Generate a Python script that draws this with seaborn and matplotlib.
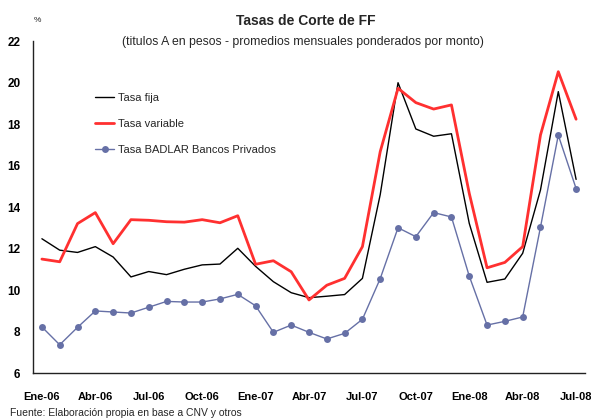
import matplotlib
matplotlib.use("Agg")
import matplotlib.pyplot as plt
import seaborn as sns
import pandas as pd
import numpy as np

months = ["Ene-06", "Feb-06", "Mar-06", "Abr-06", "May-06", "Jun-06", "Jul-06", "Ago-06",
          "Sep-06", "Oct-06", "Nov-06", "Dic-06", "Ene-07", "Feb-07", "Mar-07", "Abr-07",
          "May-07", "Jun-07", "Jul-07", "Ago-07", "Sep-07", "Oct-07", "Nov-07", "Dic-07",
          "Ene-08", "Feb-08", "Mar-08", "Abr-08", "May-08", "Jun-08", "Jul-08"]

tasa_fija = [12.47, 11.92, 11.81, 12.09, 11.59, 10.63, 10.89, 10.74, 11.00, 11.21, 11.25, 12.01,
             11.14, 10.40, 9.87, 9.63, 9.70, 9.78, 10.56, 14.60, 19.99, 17.76, 17.41, 17.53,
             13.21, 10.37, 10.53, 11.77, 14.82, 19.56, 15.33]

tasa_variable = [11.49, 11.36, 13.20, 13.73, 12.23, 13.39, 13.36, 13.29, 13.27, 13.39, 13.24, 13.58,
                 11.24, 11.41, 10.88, 9.52, 10.23, 10.56, 12.09, 16.67, 19.72, 19.03, 18.72, 18.92,
                 14.66, 11.07, 11.33, 12.09, 17.47, 20.52, 18.23]

badlar = [8.22, 7.36, 8.20, 8.99, 8.94, 8.89, 9.17, 9.45, 9.42, 9.42, 9.57, 9.79,
          9.24, 7.96, 8.31, 7.96, 7.64, 7.91, 8.59, 10.55, 13.00, 12.57, 13.73, 13.52,
          10.67, 8.31, 8.49, 8.70, 13.03, 17.46, 14.89]

series_names = ["Tasa fija", "Tasa variable", "Tasa BADLAR Bancos Privados"]
yticks = [6, 8, 10, 12, 14, 16, 18, 20, 22]

sns.set_style("white")
plt.rcParams['font.family'] = ['Liberation Sans', 'DejaVu Sans']

df = pd.DataFrame({"idx": np.arange(len(months)), "fija": tasa_fija,
                   "variable": tasa_variable, "badlar": badlar})

fig = plt.figure(figsize=(5.91, 4.19), dpi=100)
ax = fig.add_axes([33/591, 1 - 373/419, (585 - 33)/591, (373 - 41)/419])

sns.lineplot(data=df, x="idx", y="fija", ax=ax, color="black", linewidth=1.0,
             label=series_names[0])
sns.lineplot(data=df, x="idx", y="variable", ax=ax, color="#FF3030", linewidth=2.0,
             label=series_names[1])
sns.lineplot(data=df, x="idx", y="badlar", ax=ax, color="#6670A6", linewidth=1.0,
             marker="o", markersize=5, markeredgewidth=0, label=series_names[2])

ax.set_xlim(-0.5, len(months) - 0.5)
ax.set_ylim(6, 22)
ax.set_yticks(yticks)
ax.set_yticklabels([str(v) for v in yticks], fontsize=8.5, fontweight="bold")
label_pos = list(range(0, len(months), 3))
ax.set_xticks(label_pos)
ax.set_xticklabels([months[i] for i in label_pos], fontsize=8, fontweight="bold")
ax.set_xticks([i - 0.5 for i in label_pos], minor=True)
ax.tick_params(axis="x", which="major", length=0, pad=14, colors="black")
ax.tick_params(axis="x", which="minor", length=4, direction="in", width=1, color="#222222")
ax.tick_params(axis="y", which="major", length=3, direction="in", width=1, pad=9,
               color="#222222", labelcolor="black")
ax.set_xlabel("")
ax.set_ylabel("")

for s in ["top", "right"]:
    ax.spines[s].set_visible(False)
for s in ["left", "bottom"]:
    ax.spines[s].set_color("#222222")
    ax.spines[s].set_linewidth(1.0)

leg = ax.legend(loc="upper left", bbox_to_anchor=(95/591, 1 - 93/419),
                bbox_transform=fig.transFigure, frameon=False, fontsize=8,
                labelspacing=1.45, handlelength=1.75, handletextpad=0.35,
                borderpad=0, borderaxespad=0)

fig.text(306/591, 1 - 21/419, "Tasas de Corte de FF", ha="center", va="center",
         fontsize=10, fontweight="bold")
fig.text(303/591, 1 - 42/419,
         "(titulos A en pesos - promedios mensuales ponderados por monto)",
         ha="center", va="center", fontsize=8.8)
fig.text(37/591, 1 - 21/419, "%", ha="center", va="center", fontsize=6)
fig.text(10/591, 1 - 413/419, "Fuente: Elaboración propia en base a CNV y otros",
         ha="left", va="center", fontsize=7.5)

fig.savefig("out.png", dpi=100)
